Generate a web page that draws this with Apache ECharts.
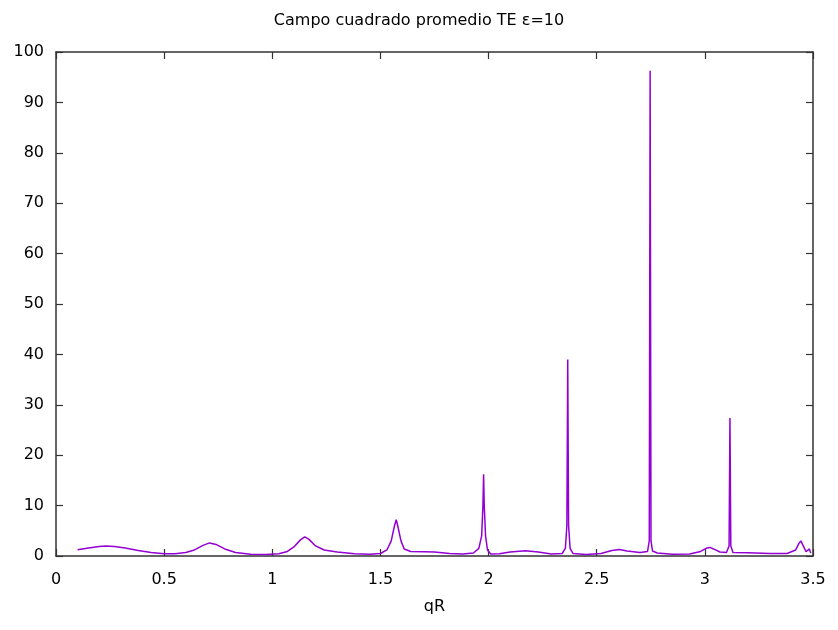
<!DOCTYPE html>
<html>
<head>
<meta charset="utf-8">
<script src="https://cdn.jsdelivr.net/npm/echarts@6/dist/echarts.min.js"></script>
<style>
  html, body { margin: 0; padding: 0; background: #fff; }
  #main { width: 838px; height: 630px; }
</style>
</head>
<body>
<div id="main"></div>
<script>
// valores
var qR = [0.10, 0.15, 0.20, 0.23, 0.27, 0.32, 0.38, 0.44, 0.50, 0.55, 0.60, 0.64, 0.68, 0.71, 0.74, 0.78, 0.83, 0.90, 0.97,
  1.03, 1.07, 1.10, 1.13, 1.15, 1.17, 1.20, 1.24, 1.30, 1.38, 1.45, 1.50, 1.53, 1.55, 1.565, 1.573, 1.58, 1.595, 1.61, 1.64,
  1.70, 1.75, 1.82, 1.88, 1.93, 1.955, 1.968, 1.974, 1.977, 1.980, 1.986, 1.995, 2.01, 2.05, 2.10, 2.17, 2.23, 2.29, 2.34,
  2.355, 2.362, 2.366, 2.370, 2.377, 2.39, 2.45, 2.52, 2.57, 2.605, 2.64, 2.70, 2.735, 2.743, 2.747, 2.751, 2.758, 2.78,
  2.85, 2.93, 2.98, 3.01, 3.024, 3.04, 3.07, 3.10, 3.112, 3.116, 3.120, 3.13, 3.20, 3.30, 3.38, 3.42, 3.435, 3.444, 3.455,
  3.468, 3.476, 3.483, 3.487, 3.49];
var campo = [1.25, 1.6, 1.9, 2.0, 1.9, 1.6, 1.1, 0.7, 0.45, 0.45, 0.7, 1.2, 2.1, 2.6, 2.3, 1.4, 0.7, 0.35, 0.3,
  0.45, 0.9, 1.8, 3.2, 3.8, 3.3, 2.0, 1.2, 0.8, 0.45, 0.35, 0.5, 1.2, 3.0, 6.0, 7.2, 6.0, 3.0, 1.4, 0.9,
  0.85, 0.8, 0.5, 0.4, 0.6, 1.5, 4, 10, 16.2, 10, 4, 1.2, 0.4, 0.45, 0.8, 1.05, 0.8, 0.4, 0.5,
  1.5, 6, 39, 6, 1.5, 0.5, 0.3, 0.5, 1.1, 1.3, 1.0, 0.7, 0.9, 3, 96.3, 3, 1.0, 0.6,
  0.35, 0.4, 0.9, 1.6, 1.7, 1.4, 0.8, 0.7, 2, 27.4, 2, 0.7, 0.65, 0.5, 0.5, 1.2, 2.5, 3.0, 2.0,
  0.85, 0.9, 1.4, 0.9, 0.6];

var puntos = [];
for (var i = 0; i < qR.length; i++) {
  puntos.push([qR[i], campo[i]]);
}

var chart = echarts.init(document.getElementById('main'));
var fuente = 'DejaVu Sans';
var lineaEje = { show: true, onZero: false, lineStyle: { color: '#333', width: 1.5 } };
var marca = { show: true, inside: true, length: 7, lineStyle: { color: '#333', width: 1.2 } };

chart.setOption({
  animation: false,
  title: {
    text: 'Campo cuadrado promedio TE ε=10',
    left: 'center',
    top: 8,
    textStyle: { fontFamily: fuente, fontSize: 16, fontWeight: 'normal', color: '#000' }
  },
  grid: { left: 56, right: 25, top: 52, bottom: 74 },
  xAxis: [
    {
      type: 'value', min: 0, max: 3.5, interval: 0.5,
      name: 'qR', nameLocation: 'middle', nameGap: 43,
      nameTextStyle: { fontFamily: fuente, fontSize: 16, color: '#000' },
      axisLine: lineaEje, axisTick: marca,
      axisLabel: { fontFamily: fuente, fontSize: 16, color: '#000', margin: 16 },
      splitLine: { show: false }
    },
    {
      type: 'value', position: 'top', min: 0, max: 3.5, interval: 0.5,
      axisLine: lineaEje, axisTick: marca, axisLabel: { show: false }, splitLine: { show: false }
    }
  ],
  yAxis: [
    {
      type: 'value', min: 0, max: 100, interval: 10,
      axisLine: lineaEje, axisTick: marca,
      axisLabel: { fontFamily: fuente, fontSize: 16, color: '#000', margin: 12 },
      splitLine: { show: false }
    },
    {
      type: 'value', position: 'right', min: 0, max: 100, interval: 10,
      axisLine: lineaEje, axisTick: marca, axisLabel: { show: false }, splitLine: { show: false }
    }
  ],
  series: [
    {
      type: 'line',
      data: puntos,
      showSymbol: false,
      symbol: 'none',
      lineStyle: { color: '#9400d3', width: 1.5 }
    }
  ]
});
</script>
</body>
</html>
